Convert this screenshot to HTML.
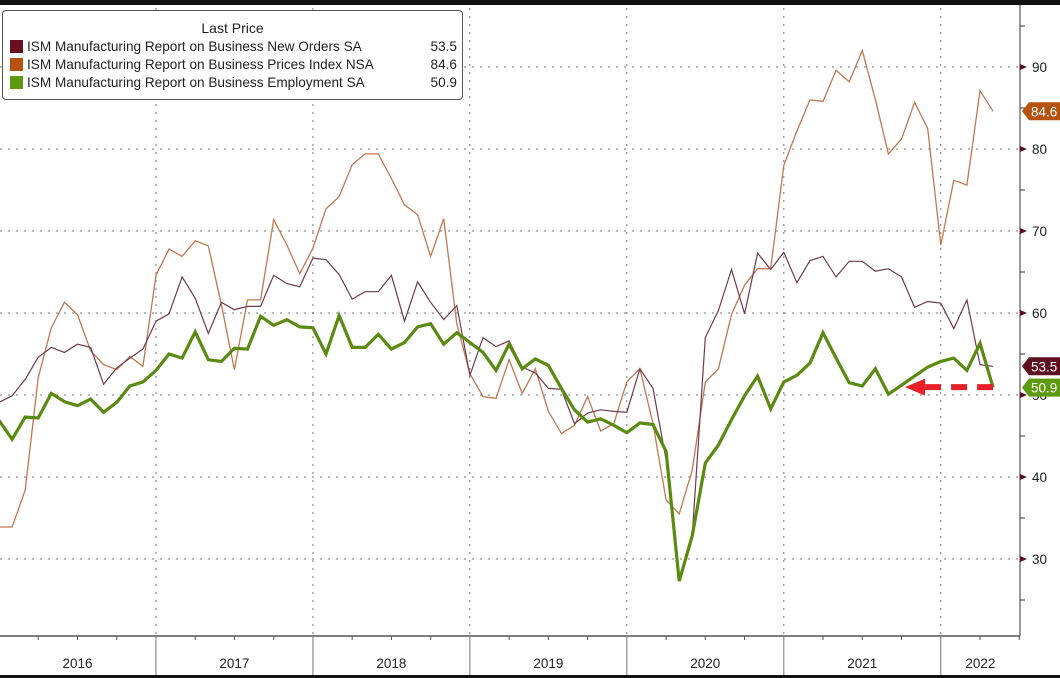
<!DOCTYPE html>
<html><head><meta charset="utf-8"><style>
html,body{margin:0;padding:0;background:#fff;}
svg{display:block;font-family:"Liberation Sans",sans-serif;}
</style></head><body>
<svg id="chart" width="1060" height="678" viewBox="0 0 1060 678">
<rect x="0" y="0" width="1060" height="678" fill="#fff"/>
<g id="grid"></g><g id="series"></g><g id="axes"></g>
</svg>
<script>
const years = ["2016","2017","2018","2019","2020","2021","2022"];
const yTicks = [30,40,50,60,70,80,90];
const pricesIdx = [33.9,33.9,38.4,52.1,58.2,61.3,59.8,55.4,53.7,53.1,54.7,53.5,64.6,67.8,66.9,68.8,68.2,61.0,53.1,61.6,61.6,71.4,68.3,64.8,67.9,72.7,74.2,78.1,79.4,79.4,76.4,73.2,72.0,66.9,71.5,58.7,52.6,49.8,49.6,54.3,50.2,53.2,48.0,45.3,46.3,49.8,45.6,46.5,51.6,53.2,46.5,37.2,35.5,40.8,51.6,53.2,59.8,63.4,65.4,65.4,78.0,82.2,86.0,85.8,89.6,88.2,92.0,86.0,79.4,81.2,85.7,82.5,68.3,76.2,75.6,87.1,84.6];
const newOrders = [49.1,49.9,51.9,54.6,55.8,55.2,56.2,55.8,51.3,53.3,54.5,55.6,59.0,59.9,64.4,61.8,57.5,61.3,60.4,60.8,60.8,64.6,63.6,63.2,66.7,66.5,64.7,61.7,62.6,62.6,64.6,59.0,63.8,61.3,59.2,60.9,52.4,57.0,55.9,56.6,53.4,52.7,50.8,50.7,46.5,47.8,48.2,48.0,47.9,53.2,50.8,42.1,27.5,32.8,57.0,60.3,65.3,59.9,67.3,65.3,67.4,63.7,66.4,66.9,64.4,66.3,66.3,65.1,65.4,64.4,60.7,61.4,61.2,58.1,61.6,53.7,53.5];
const employment = [46.9,44.6,47.3,47.2,50.2,49.2,48.7,49.5,47.9,49.1,51.1,51.6,53.0,55.0,54.5,57.7,54.3,54.1,55.7,55.6,59.6,58.5,59.2,58.3,58.2,55.0,59.7,55.8,55.8,57.4,55.6,56.4,58.3,58.7,56.2,57.6,56.4,55.2,53.0,56.2,53.2,54.4,53.6,50.8,48.2,46.7,47.1,46.3,45.4,46.6,46.4,43.1,27.3,32.8,41.7,43.9,47.0,49.9,52.3,48.3,51.6,52.4,53.9,57.6,54.5,51.5,51.1,53.2,50.1,51.2,52.3,53.4,54.1,54.5,53.0,56.3,50.9];

const NS="http://www.w3.org/2000/svg";
const MW=13.08, X0=-1, AX=1020, AY=636;
const xM = i => X0 + i*MW;
const yV = v => 67 + (90 - v)*8.2;
function mk(tag, attrs, parent){const e=document.createElementNS(NS,tag);for(const k in attrs)e.setAttribute(k,attrs[k]);parent.appendChild(e);return e;}
const grid=document.getElementById('grid'), ser=document.getElementById('series'), axes=document.getElementById('axes');

yTicks.forEach(v=>{
  const l=mk('line',{x1:0,x2:AX,y1:yV(v),y2:yV(v),stroke:'#777','stroke-width':1,'stroke-dasharray':'2,6'},grid);
  
  
});
years.forEach((y,k)=>{ if(k===0) return;
  const x=xM(12*k);
  const l=mk('line',{x1:x,x2:x,y1:8,y2:AY,stroke:'#777','stroke-width':1,'stroke-dasharray':'2,6'},grid);
  
  
});

function line(arr,color,w,name){
  const pts=arr.map((v,i)=>xM(i).toFixed(1)+','+yV(v).toFixed(1)).join(' ');
  const p=mk('polyline',{points:pts,fill:'none',stroke:color,'stroke-width':w,'stroke-linejoin':'miter'},ser);
  
  
}
line(pricesIdx,'#c07850',1.3,'prices-index-line');
line(newOrders,'#6e3a50',1.2,'new-orders-line');
line(employment,'#5a8a10',3.2,'employment-line');

const lastX=xM(employment.length-1), lastY=yV(employment[employment.length-1]);
const ar=mk('g',{},ser);


mk('line',{x1:lastX,x2:925,y1:lastY-0.5,y2:lastY-0.5,stroke:'#e8202a','stroke-width':6,'stroke-dasharray':'16,10'},ar);
mk('polygon',{points:`905,${lastY-0.5} 925,${lastY-9} 925,${lastY+8}`,fill:'#e8202a'},ar);

mk('rect',{x:0,y:0,width:1060,height:5,fill:'#111'},axes);
mk('rect',{x:0,y:675,width:1060,height:3,fill:'#111'},axes);
mk('line',{x1:AX,x2:AX,y1:5,y2:AY,stroke:'#333','stroke-width':1},axes);
mk('line',{x1:0,x2:AX,y1:AY,y2:AY,stroke:'#333','stroke-width':1.2},axes);
for(let v=25;v<=95;v+=5){ mk('line',{x1:AX,x2:AX+5,y1:yV(v),y2:yV(v),stroke:'#333'},axes); }
yTicks.forEach(v=>{
  mk('polygon',{points:`${AX},${yV(v)-3} ${AX+7},${yV(v)} ${AX},${yV(v)+3}`,fill:'#5a1020'},axes);
  const t=mk('text',{x:AX+12,y:yV(v)+5,'font-size':13.5,fill:'#222'},axes);
  t.textContent=v;
  
  
});
years.forEach((y,k)=>{
  const x0=xM(12*k), x1=Math.min(xM(12*(k+1)),AX);
  if(k>0) mk('line',{x1:x0,x2:x0,y1:AY,y2:675,stroke:'#777'},axes);
  for(let q=1;q<4;q++){const xq=x0+q*3*MW; if(xq<AX) mk('line',{x1:xq,x2:xq,y1:AY,y2:AY+4,stroke:'#555'},axes);}
  const t=mk('text',{x:(x0+x1)/2,y:668,'font-size':13.5,fill:'#222','text-anchor':'middle'},axes);
  t.textContent=y;
  
  
});
function tag(v,color,name){
  const y=yV(v);
  const g=mk('g',{},axes);
  
  
  mk('polygon',{points:`${AX+2},${y} ${AX+9},${y-9} 1060,${y-9} 1060,${y+9} ${AX+9},${y+9}`,fill:color},g);
  const t=mk('text',{x:AX+11,y:y+5,'font-size':13.5,fill:'#fff'},g);
  t.textContent=v.toFixed(1);
}
tag(84.6,'#b5520f','prices-last-tag');
tag(53.5,'#5e1020','new-orders-last-tag');
tag(50.9,'#5e9a10','employment-last-tag');
</script>
<div style="position:absolute;left:2px;top:10px;width:461px;height:90px;border:1px solid #555;border-radius:4px;background:#fff;font-family:'Liberation Sans','DejaVu Sans',sans-serif;font-size:13.6px;color:#222;box-sizing:border-box;">
  <div style="position:absolute;left:0;width:100%;top:9px;text-align:center;font-size:14px;">Last Price</div>
  <div style="position:absolute;left:7px;top:28px;width:447px;white-space:nowrap;"><span style="display:inline-block;width:13px;height:13px;background:#6a1020;vertical-align:-2px;margin-right:4px"></span>ISM Manufacturing Report on Business New Orders SA<span style="float:right">53.5</span></div>
  <div style="position:absolute;left:7px;top:46px;width:447px;white-space:nowrap;"><span style="display:inline-block;width:13px;height:13px;background:#b5520f;vertical-align:-2px;margin-right:4px"></span>ISM Manufacturing Report on Business Prices Index NSA<span style="float:right">84.6</span></div>
  <div style="position:absolute;left:7px;top:64px;width:447px;white-space:nowrap;"><span style="display:inline-block;width:13px;height:13px;background:#5e9a10;vertical-align:-2px;margin-right:4px"></span>ISM Manufacturing Report on Business Employment SA<span style="float:right">50.9</span></div>
</div>
</body></html>
